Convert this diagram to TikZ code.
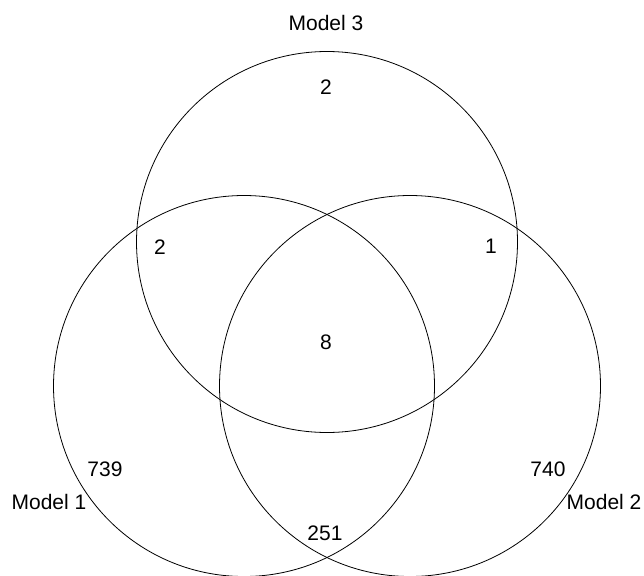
\documentclass[tikz,border=0pt]{standalone}
\usepackage{fontspec}
\setmainfont{Liberation Sans}
\usetikzlibrary{positioning}

\begin{document}
\begin{tikzpicture}[x=1pt, y=-1pt,
      set/.style={draw, circle, line width=0.8pt, minimum size=381pt, inner sep=0pt},
      lbl/.style={font=\fontsize{21}{25}\selectfont, inner sep=0pt}]
    \clip (0,0) rectangle (644,575);
    % the three sets
    \node[set] (m3) at (327,242) {};
    \node[set] (m1) at (244,386) {};
    \node[set] (m2) at (410,386) {};
    % set names
    \node[lbl] (t3) at (326,23) {Model 3};
    \node[lbl] (t1) at (49,502) {Model 1};
    \node[lbl] (t2) at (604,502) {Model 2};
    % counts
    \node[lbl] (only3) at (326,87) {2};
    \node[lbl] (n13) at (160,247) {2};
    \node[lbl] (n23) at (491,246) {1};
    \node[lbl] (all) at (326,342) {8};
    \node[lbl] (only1) at (105,469) {739};
    \node[lbl] (only2) at (548,469) {740};
    \node[lbl] (n12) at (325,533) {251};
  \end{tikzpicture}
\end{document}
